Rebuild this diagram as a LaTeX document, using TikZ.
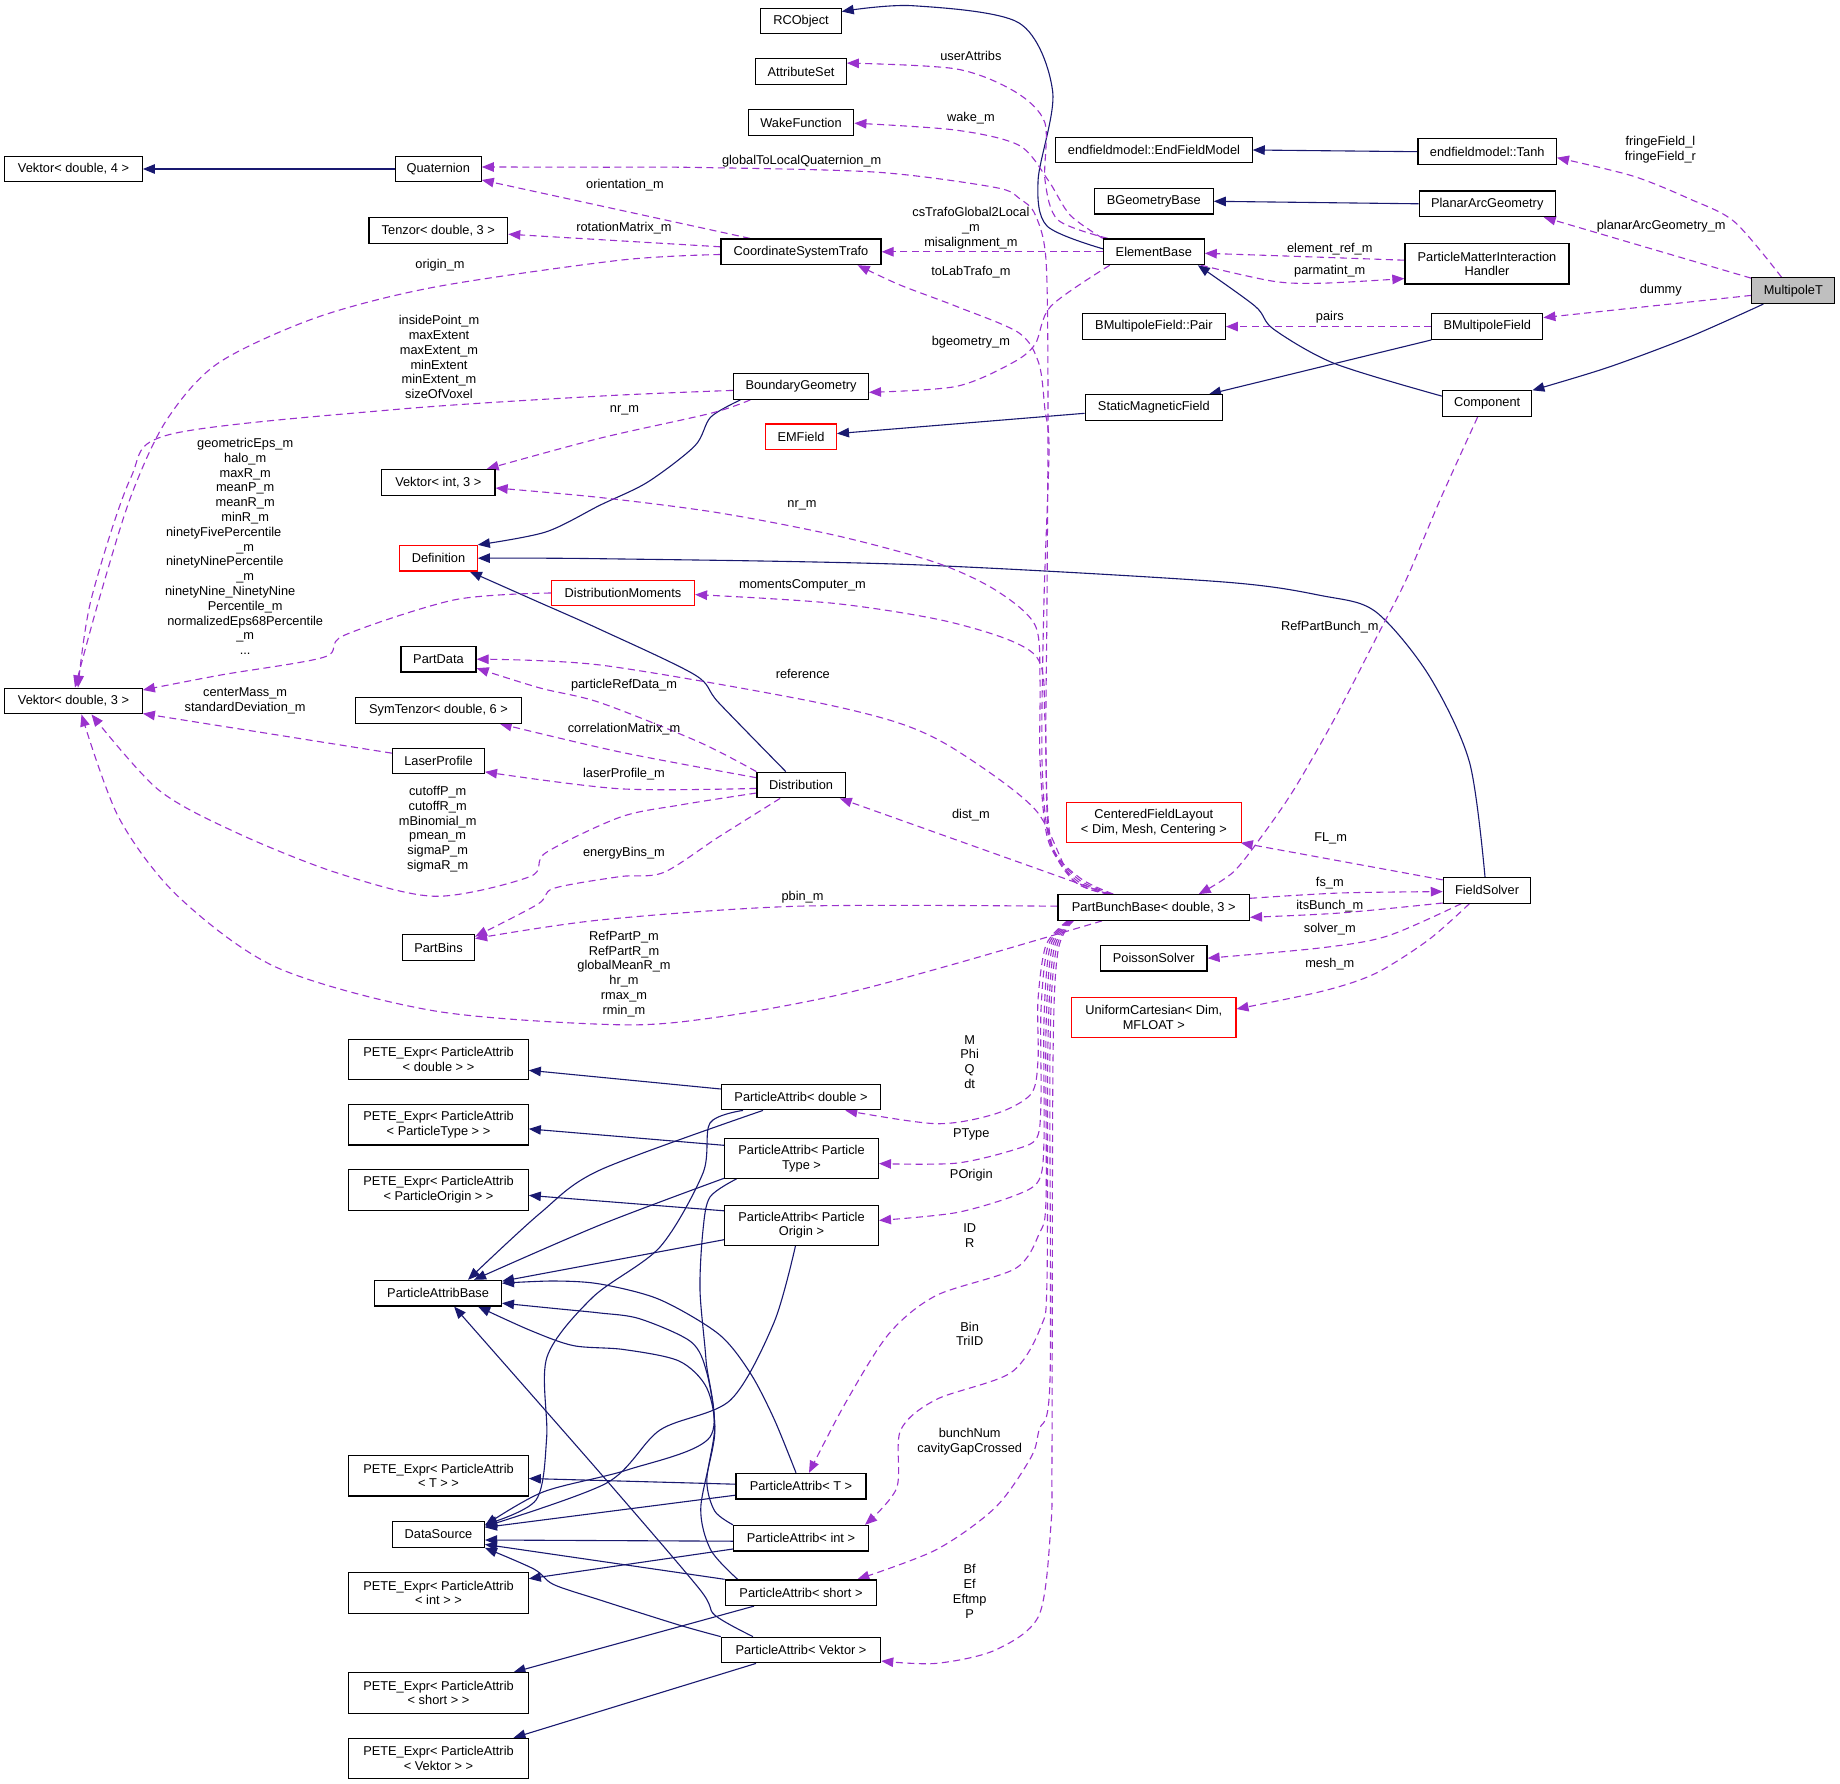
\documentclass[tikz,border=0pt]{standalone}
\usepackage{fontspec}
\setmainfont{Liberation Sans}
\usetikzlibrary{arrows.meta}
\definecolor{navyc}{HTML}{191970}
\definecolor{purp}{HTML}{9A32CD}
\definecolor{grayf}{HTML}{BFBFBF}
\newcommand\fsz{\fontsize{12.8pt}{14.8pt}\selectfont}
\pgfdeclarelayer{bg}
\pgfdeclarelayer{canvas}
\pgfsetlayers{canvas,bg,main}
\tikzset{
  box/.style={draw=black, line width=1.2pt, fill=white, minimum height=25.6pt, inner sep=2pt, align=center, font=\fsz},
  redbox/.style={box, draw=red},
  inh/.style={draw=navyc, line width=1.1pt, -{Triangle[length=12pt,width=9.5pt]}},
  dep/.style={draw=purp, line width=1.1pt, dash pattern=on 7pt off 4.5pt, -{Triangle[length=12pt,width=9.5pt]}},
  lbl/.style={inner sep=0pt, align=center, font=\fsz},
}
\begin{document}
\begin{tikzpicture}[x=1pt,y=-1pt]
\begin{pgfonlayer}{canvas}
\fill[white] (0,0) rectangle (1840,1784);
\end{pgfonlayer}
\useasboundingbox (0,0) rectangle (1840,1784);
% ---------- nodes ----------
\node[box, minimum width=137.6pt] (v4) at (73.5,169) {Vektor< double, 4 >};
\node[box, minimum width=85.8pt] (quat) at (438.3,169) {Quaternion};
\node[box, minimum width=138.8pt] (tenzor) at (438.3,230.6) {Tenzor< double, 3 >};
\node[box, minimum width=113.5pt] (vint) at (438.3,482.4) {Vektor< int, 3 >};
\node[redbox, minimum width=77.5pt] (defn) at (438.5,558.2) {Definition};
\node[redbox, minimum width=143pt] (dmom) at (623,593) {DistributionMoments};
\node[box, minimum width=137.6pt] (v3) at (73.5,701) {Vektor< double, 3 >};
\node[box, minimum width=75.1pt] (partdata) at (438.5,659.2) {PartData};
\node[box, minimum width=165.3pt] (symt) at (438.5,710.3) {SymTenzor< double, 6 >};
\node[box, minimum width=91.8pt] (laser) at (438.5,760.9) {LaserProfile};
\node[box, minimum width=72pt] (partbins) at (438.5,947.6) {PartBins};
\node[box, minimum width=179.5pt, minimum height=40.3pt] (peted) at (438.5,1059.7) {PETE\_Expr< ParticleAttrib\\< double > >};
\node[box, minimum width=179.5pt, minimum height=40.3pt] (petetype) at (438.5,1124.9) {PETE\_Expr< ParticleAttrib\\< ParticleType > >};
\node[box, minimum width=179.5pt, minimum height=40.3pt] (peteorigin) at (438.5,1190) {PETE\_Expr< ParticleAttrib\\< ParticleOrigin > >};
\node[box, minimum width=126.6pt] (pab) at (438.1,1293.2) {ParticleAttribBase};
\node[box, minimum width=179.5pt, minimum height=40.3pt] (peteT) at (438.5,1475.8) {PETE\_Expr< ParticleAttrib\\< T > >};
\node[box, minimum width=91.8pt] (ds) at (438.5,1534.4) {DataSource};
\node[box, minimum width=179.5pt, minimum height=40.3pt] (peteint) at (438.5,1593) {PETE\_Expr< ParticleAttrib\\< int > >};
\node[box, minimum width=179.5pt, minimum height=40.3pt] (peteshort) at (438.5,1693) {PETE\_Expr< ParticleAttrib\\< short > >};
\node[box, minimum width=179.5pt, minimum height=40.3pt] (petevek) at (438.5,1758.6) {PETE\_Expr< ParticleAttrib\\< Vektor > >};
\node[box, minimum width=80.3pt] (rco) at (801,21) {RCObject};
\node[box, minimum width=90.5pt] (attr) at (801,71.6) {AttributeSet};
\node[box, minimum width=105.6pt] (wake) at (801,122.5) {WakeFunction};
\node[box, minimum width=160.1pt] (cst) at (801,251.8) {CoordinateSystemTrafo};
\node[box, minimum width=134.9pt] (bgeo) at (801,386.5) {BoundaryGeometry};
\node[redbox, minimum width=70.8pt] (emf) at (801,436.9) {EMField};
\node[box, minimum width=88.2pt] (dist) at (801.1,785) {Distribution};
\node[box, minimum width=159.3pt] (pad) at (801,1097) {ParticleAttrib< double >};
\node[box, minimum width=153.8pt, minimum height=40pt] (patype) at (801.5,1158.3) {ParticleAttrib< Particle\\Type >};
\node[box, minimum width=153.8pt, minimum height=40pt] (paorigin) at (801.5,1225.2) {ParticleAttrib< Particle\\Origin >};
\node[box, minimum width=130.1pt] (paT) at (801,1486.2) {ParticleAttrib< T >};
\node[box, minimum width=134.9pt] (paint) at (801,1538.2) {ParticleAttrib< int >};
\node[box, minimum width=151.5pt] (pashort) at (801,1592.7) {ParticleAttrib< short >};
\node[box, minimum width=159.3pt] (pavek) at (801,1650) {ParticleAttrib< Vektor >};
\node[box, minimum width=196.3pt] (efm) at (1154,150) {endfieldmodel::EndFieldModel};
\node[box, minimum width=119pt] (bgb) at (1153.7,201.3) {BGeometryBase};
\node[box, minimum width=100.8pt] (eb) at (1153.8,251.8) {ElementBase};
\node[box, minimum width=142.9pt] (pair) at (1153.9,326.6) {BMultipoleField::Pair};
\node[box, minimum width=137.2pt] (smf) at (1153.8,407.6) {StaticMagneticField};
\node[redbox, minimum width=174.6pt, minimum height=39.6pt] (cfl) at (1153.9,822.4) {CenteredFieldLayout\\< Dim, Mesh, Centering >};
\node[box, minimum width=191.5pt] (pbb) at (1153.7,907.5) {PartBunchBase< double, 3 >};
\node[box, minimum width=106.4pt] (poisson) at (1153.8,958.2) {PoissonSolver};
\node[redbox, minimum width=164.2pt, minimum height=40pt] (uc) at (1153.8,1017.2) {UniformCartesian< Dim,\\MFLOAT >};
\node[box, minimum width=138.3pt] (tanh) at (1487.2,151.7) {endfieldmodel::Tanh};
\node[box, minimum width=135.9pt] (pag) at (1487.2,203.8) {PlanarArcGeometry};
\node[box, minimum width=164.1pt, minimum height=40.2pt] (pmih) at (1487,263.9) {ParticleMatterInteraction\\Handler};
\node[box, minimum width=111pt] (bmf) at (1487.3,326.6) {BMultipoleField};
\node[box, minimum width=89.4pt] (comp) at (1487.1,403.7) {Component};
\node[box, minimum width=87.3pt] (fs) at (1487,890.3) {FieldSolver};
\node[box, minimum width=82.9pt, fill=grayf] (mpt) at (1793.3,290.7) {MultipoleT};
% ---------- labels ----------
\node[lbl] (l1) at (1660.4,149.8) {fringeField\_l\\fringeField\_r};
\node[lbl] (l2) at (1661.2,225.8) {planarArcGeometry\_m};
\node[lbl] (l3) at (1660.8,289.7) {dummy};
\node[lbl] (l4) at (1329.8,271) {parmatint\_m};
\node[lbl] (l5) at (1329.8,248.8) {element\_ref\_m};
\node[lbl] (l6) at (1329.8,317.6) {pairs};
\node[lbl] (l7) at (970.9,227.9) {csTrafoGlobal2Local\\\_m\\misalignment\_m};
\node[lbl] (l8) at (970.9,342.5) {bgeometry\_m};
\node[lbl] (l9) at (970.9,118.6) {wake\_m};
\node[lbl] (l10) at (970.9,56.3) {userAttribs};
\node[lbl] (l11) at (801.7,160.7) {globalToLocalQuaternion\_m};
\node[lbl] (l12) at (970.9,272.5) {toLabTrafo\_m};
\node[lbl] (l13) at (802,505.2) {nr\_m};
\node[lbl] (l14) at (802.5,585.5) {momentsComputer\_m};
\node[lbl] (l15) at (802.8,673.7) {reference};
\node[lbl] (l16) at (970.9,814.9) {dist\_m};
\node[lbl] (l17) at (1329.8,626.7) {RefPartBunch\_m};
\node[lbl] (l18) at (1330.6,838.6) {FL\_m};
\node[lbl] (l19) at (1329.8,882.9) {fs\_m};
\node[lbl] (l20) at (1329.8,905.8) {itsBunch\_m};
\node[lbl] (l21) at (1329.8,928.8) {solver\_m};
\node[lbl] (l22) at (1329.8,964.3) {mesh\_m};
\node[lbl] (l23) at (802.5,897.5) {pbin\_m};
\node[lbl] (l24) at (624,973.9) {RefPartP\_m\\RefPartR\_m\\globalMeanR\_m\\hr\_m\\rmax\_m\\rmin\_m};
\node[lbl] (l25) at (624,684.8) {particleRefData\_m};
\node[lbl] (l26) at (624,729.5) {correlationMatrix\_m};
\node[lbl] (l27) at (624,774.5) {laserProfile\_m};
\node[lbl] (l28) at (437.7,829.1) {cutoffP\_m\\cutoffR\_m\\mBinomial\_m\\pmean\_m\\sigmaP\_m\\sigmaR\_m};
\node[lbl] (l29) at (624,853.6) {energyBins\_m};
\node[lbl] (l30) at (625,184.8) {orientation\_m};
\node[lbl] (l31) at (624,228.5) {rotationMatrix\_m};
\node[lbl] (l32) at (440,264.8) {origin\_m};
\node[lbl] (l33) at (439,357.1) {insidePoint\_m\\maxExtent\\maxExtent\_m\\minExtent\\minExtent\_m\\sizeOfVoxel};
\node[lbl] (l34) at (624.5,410.6) {nr\_m};
\node[lbl] (l35) at (245.2,546.4) {geometricEps\_m\\halo\_m\\maxR\_m\\meanP\_m\\meanR\_m\\minR\_m\\ninetyFivePercentile\rule{43pt}{0pt}\\\_m\\ninetyNinePercentile\rule{41pt}{0pt}\\\_m\\ninetyNine\_NinetyNine\rule{30pt}{0pt}\\Percentile\_m\\normalizedEps68Percentile\\\_m\\...};
\node[lbl] (l36) at (245.2,701.2) {centerMass\_m\\standardDeviation\_m};
\node[lbl] (l37) at (969.7,1062) {M\\Phi\\Q\\dt};
\node[lbl] (l38) at (971.3,1134.4) {PType};
\node[lbl] (l39) at (971.3,1174.7) {POrigin};
\node[lbl] (l40) at (969.7,1235.5) {ID\\R};
\node[lbl] (l41) at (969.7,1333.9) {Bin\\TriID};
\node[lbl] (l42) at (969.7,1441.9) {bunchNum\\cavityGapCrossed};
\node[lbl] (l43) at (969.7,1591.4) {Bf\\Ef\\Eftmp\\P};
% ---------- edges ----------
\begin{pgfonlayer}{bg}
% inheritance
\draw[inh] (quat.west) -- (v4.east);
\draw[inh] plot[smooth] coordinates {([yshift=3pt]eb.west) (1046.8,225.8) (1038.1,179.9) (1052.7,91.8) (1019.1,23) (912.4,5.7) ([yshift=9.5pt]rco.east)};
\draw[inh] (tanh.west) -- (efm.east);
\draw[inh] (pag.west) -- (bgb.east);
\draw[inh] plot[smooth] coordinates {([yshift=7.6pt]comp.west) (1334.7,363.6) (1273.5,329.1) (1255.1,306.2) ([xshift=-7pt]eb.south east)};
\draw[inh] (bmf.south west) -- ([xshift=-14pt]smf.north east);
\draw[inh] plot[smooth] coordinates {([xshift=-30pt]mpt.south) (1689.8,336.8) (1608,367.4) (comp.north east)};
\draw[inh] ([yshift=-5.7pt]smf.west) -- ([yshift=3.3pt]emf.east);
\draw[inh] plot[smooth] coordinates {([xshift=-60.6pt]bgeo.south) (710.7,417.1) (694.9,445.8) (647.5,482.2) (600,505.2) (545.7,532) (defn.north east)};
\draw[inh] plot[smooth] coordinates {([xshift=-2pt]fs.north) (1469.4,761.9) (1428.6,674.9) (1375.5,611.6) (1322.4,595.8) (1220,581.7) (908.4,564.5) (600,558.7) (defn.east)};
\draw[inh] plot[smooth] coordinates {([xshift=-15.3pt]dist.north) (718.6,702.6) (694.9,674.9) (600,629.4) (533.8,600) ([xshift=-8pt]defn.south east)};
% particle attrib inheritance
\draw[inh] ([yshift=8pt]pad.west) -- ([yshift=-10.6pt]peted.east);
\draw[inh] plot[smooth] coordinates {([xshift=-38pt]pad.south) (600,1170) (540,1213.3) ([xshift=-34pt]pab.north east)};
\draw[inh] plot[smooth] coordinates {([xshift=-58pt]pad.south) (710,1123) (703,1173) (660,1247) (593,1297) (547,1357) (546.7,1437) (536,1500) ([yshift=10pt]ds.east)};
\draw[inh] ([yshift=13pt]patype.west) -- ([yshift=-4pt]petetype.east);
\draw[inh] plot[smooth] coordinates {([yshift=-20pt]patype.west) (600,1225) ([xshift=-28pt]pab.north east)};
\draw[inh] plot[smooth] coordinates {([xshift=-65pt]patype.south) (710,1197) (703,1230) (700,1290) (706,1360) (710,1437) (627,1470) (543,1492) ([yshift=9pt]ds.east)};
\draw[inh] ([yshift=14.4pt]paorigin.west) -- ([yshift=-5.4pt]peteorigin.east);
\draw[inh] ([yshift=-14.5pt]paorigin.west) -- ([yshift=12pt]pab.east);
\draw[inh] plot[smooth] coordinates {([xshift=-6pt]paorigin.south) (774,1322.5) (730.5,1400) (660,1430) (606.7,1483) ([yshift=8pt]ds.east)};
\draw[inh] ([yshift=2pt]paT.west) -- ([yshift=-2.7pt]peteT.east);
\draw[inh] ([yshift=-9pt]paT.west) -- ([yshift=7pt]ds.east);
\draw[inh] plot[smooth] coordinates {([xshift=-5pt]paT.north) (774,1418.8) (750,1372.6) (718.6,1334) (659.3,1299.4) (600,1284) (553.6,1281) ([yshift=10pt]pab.east)};
\draw[inh] ([yshift=-10.8pt]paint.west) -- ([yshift=14.3pt]peteint.east);
\draw[inh] ([yshift=-3pt]paint.west) -- ([yshift=-5.6pt]ds.east);
\draw[inh] plot[smooth] coordinates {(paint.north west) (714.7,1511) (706.8,1480.5) (714.7,1426.5) (706.8,1372.6) (691,1341.8) (639.5,1318.7) (600,1313) (560,1309) ([yshift=-10pt]pab.east)};
\draw[inh] ([xshift=-47pt]pashort.south) -- ([xshift=75pt]peteshort.north);
\draw[inh] (pashort.north west) -- ([yshift=-10pt]ds.east);
\draw[inh] plot[smooth] coordinates {([xshift=13pt]pashort.north west) (710.7,1549.8) (700.8,1507.4) (714.7,1434) (706.8,1388) (679,1361) (623.7,1349.5) (573.3,1345.6) (529.9,1330.2) ([xshift=40pt]pab.south)};
\draw[inh] ([xshift=-45pt]pavek.south) -- ([xshift=75pt]petevek.north);
\draw[inh] plot[smooth] coordinates {(pavek.north west) (679,1625) (600,1600) (553.6,1584.5) (533.8,1569) ([yshift=-13.5pt]ds.east)};
\draw[inh] plot[smooth] coordinates {([xshift=-48pt]pavek.north) (714.7,1615) (698.9,1588.3) (600,1472.8) ([xshift=16pt]pab.south)};
% dependencies
\draw[dep] plot[smooth] coordinates {([xshift=-11.7pt]mpt.north) (1734.7,222) (1689.8,199) (1632.7,176) ([yshift=-6pt]tanh.east)};
\draw[dep] ([yshift=12.5pt]mpt.west) -- ([xshift=-12pt]pag.south east);
\draw[dep] ([yshift=-4.7pt]mpt.west) -- ([yshift=9pt]bmf.east);
\draw[dep] plot[smooth] coordinates {([xshift=-4pt]eb.south east) (1273.5,281.3) (1322.4,283.2) ([yshift=-14.7pt]pmih.west)};
\draw[dep] plot[smooth] coordinates {([yshift=3.7pt]pmih.west) (1300,256.5) ([yshift=-1.5pt]eb.east)};
\draw[dep] (bmf.west) -- (pair.east);
\draw[dep] (eb.west) -- (cst.east);
\draw[dep] plot[smooth] coordinates {([xshift=-44pt]eb.south) (1050.8,306.2) (1035,344.4) (1011,363.6) (955.9,386.5) ([yshift=-5.8pt]bgeo.east)};
\draw[dep] plot[smooth] coordinates {(eb.north west) (1070,215) (1048,180) (1019.1,145.4) (955.9,130.1) ([yshift=-0.7pt]wake.east)};
\draw[dep] plot[smooth] coordinates {([xshift=5pt]eb.north west) (1058,220) (1045,180) (1044.8,122.5) (1015.2,91.8) (955.9,68.9) ([yshift=8.5pt]attr.east)};
% PartBunchBase upward bundle
\draw[dep] plot[smooth] coordinates {([xshift=56pt]pbb.north west) (1080,878) (1052,845) (1046,760) (1047,600) (1048,400) (1046,260) (1035,214.3) (1020,199) (995.4,187.5) (876.8,172.2) (700,167.5) (600,167.2) ([yshift=2pt]quat.east)};
\draw[dep] plot[smooth] coordinates {([xshift=55pt]pbb.north west) (1078,879) (1050,842) (1042,760) (1044,600) (1049,450) (1045,410) (1038.9,363.6) (1019.1,333) (955.9,306.2) (900,285) ([xshift=-24pt]cst.south east)};
\draw[dep] plot[smooth] coordinates {([xshift=54pt]pbb.north west) (1076,880) (1048,840) (1040,760) (1040,680) (1035,625) (995.4,590) (936,562.6) (837.2,535.8) (718.6,512.8) (600,497.5) ([yshift=-5.6pt]vint.east)};
\draw[dep] plot[smooth] coordinates {([xshift=53pt]pbb.north west) (1074,881) (1049,835) (1045,720) (1035,655.1) (955.9,623.5) (837.2,603.7) ([yshift=-1.6pt]dmom.east)};
\draw[dep] plot[smooth] coordinates {([xshift=52pt]pbb.north west) (1072,879) (1035,809.3) (955.9,750) (896.6,722.3) (797.7,698.6) (600,665) (partdata.east)};
\draw[dep] ([xshift=51pt]pbb.north west) -- ([xshift=-6pt]dist.south east);
\draw[dep] plot[smooth] coordinates {([xshift=-9.5pt]comp.south) (1440,500) (1406,580) (1379.6,631.4) (1334.7,718.4) (1293.9,789.6) (1261.2,837) (1232.7,872.6) ([xshift=45pt]pbb.north)};
\draw[dep] ([yshift=-3pt]fs.north west) -- ([xshift=-1pt]cfl.south east);
\draw[dep] plot[smooth] coordinates {([yshift=9.2pt]pbb.east) (1340,893) ([yshift=-1.3pt]fs.west)};
\draw[dep] plot[smooth] coordinates {([yshift=-12.7pt]fs.west) (1340,913) ([yshift=-9.8pt]pbb.east)};
\draw[dep] plot[smooth] coordinates {([xshift=-25.8pt]fs.south) (1387.8,935.9) (1322.4,947.7) (poisson.east)};
\draw[dep] plot[smooth] coordinates {([xshift=-17.6pt]fs.south) (1428.6,939.8) (1375.5,973.4) (1322.4,991.2) ([yshift=8.2pt]uc.east)};
\draw[dep] plot[smooth] coordinates {([yshift=1.3pt]pbb.west) (797.7,906.2) (600,920) ([yshift=9pt]partbins.east)};
\draw[dep] plot[smooth] coordinates {([xshift=-51.7pt]pbb.south) (955.9,963.6) (837.2,995.2) (718.6,1017) (620,1024.8) (435,1011) (276.8,967.5) (178,896.3) (118.6,817.2) ([xshift=8pt]v3.south)};
% Distribution, CST, BoundaryGeometry members
\draw[dep] plot[smooth] coordinates {(dist.north west) (698.9,742) (600,702.6) (540,688) ([yshift=-9pt]partdata.east)};
\draw[dep] plot[smooth] coordinates {([yshift=7.3pt]dist.west) (620,752) ([xshift=-22pt]symt.south east)};
\draw[dep] plot[smooth] coordinates {([yshift=-3.4pt]dist.west) (620,788.8) ([yshift=-11pt]laser.east)};
\draw[dep] plot[smooth] coordinates {([yshift=-8pt]dist.west) (680,805) (620,817.2) (545.7,852.8) (529.9,876.6) (435,896.3) (336.1,872.6) (237.2,833) (158.2,789.6) ([xshift=18pt]v3.south)};
\draw[dep] plot[smooth] coordinates {([xshift=-21pt]dist.south) (718.6,837) (663.3,872.6) (620,876.6) (553.6,888.4) (537.8,904.2) ([yshift=11pt]partbins.east)};
\draw[dep] ([xshift=-51pt]cst.north) -- ([yshift=-11pt]quat.east);
\draw[dep] ([yshift=5pt]cst.west) -- ([yshift=-3.6pt]tenzor.east);
\draw[dep] plot[smooth] coordinates {([yshift=-2.7pt]cst.west) (620,260.2) (435,287) (316.3,317.6) (217.5,363.6) (166,421) (130.5,497.5) (98.9,600) ([xshift=1.5pt]v3.north)};
\draw[dep] plot[smooth] coordinates {([yshift=-3.9pt]bgeo.west) (600,396.1) (395.4,409.5) (170,434.4) (130.5,478.4) (91,600) ([xshift=4.5pt]v3.north)};
\draw[dep] plot[smooth] coordinates {([xshift=-50.7pt]bgeo.south) (710.7,413.3) (600,438.2) ([xshift=-9pt]vint.north east)};
\draw[dep] plot[smooth] coordinates {(dmom.west) (454.7,599.8) (344,635.4) (324.2,657.1) (221.4,674.9) ([yshift=11pt]v3.east)};
\draw[dep] ([yshift=7.7pt]laser.west) -- ([yshift=-12.6pt]v3.east);
% PartBunchBase downward bundle
\draw[dep] plot[smooth] coordinates {([xshift=10pt]pbb.south west) (1046,945) (1038,1000) (1038,1060) (1031,1094) (995.4,1113.8) (936.1,1123.7) ([xshift=-36pt]pad.south east)};
\draw[dep] plot[smooth] coordinates {([xshift=11pt]pbb.south west) (1048,946) (1041,1010) (1041,1100) (1037,1137.5) (1015.2,1149.4) (955.9,1163.2) ([yshift=-5.3pt]patype.east)};
\draw[dep] plot[smooth] coordinates {([xshift=12pt]pbb.south west) (1050,947) (1044,1020) (1044,1140) (1039,1180) (1015.2,1195.4) (955.9,1212.7) ([yshift=4.8pt]paorigin.east)};
\draw[dep] plot[smooth] coordinates {([xshift=13pt]pbb.south west) (1052,948) (1046,1030) (1046,1200) (1039,1234) (1015.2,1268.6) (936,1295.6) (888.7,1334) (845.2,1403.4) ([xshift=8pt]paT.north)};
\draw[dep] plot[smooth] coordinates {([xshift=14pt]pbb.south west) (1054,949) (1048,1040) (1047,1280) (1041,1326.4) (1011,1372.6) (936,1399.6) (900.5,1430.4) (896.6,1488.2) ([xshift=-4pt]paint.north east)};
\draw[dep] plot[smooth] coordinates {([xshift=15pt]pbb.south west) (1056,950) (1050,1050) (1050,1380) (1039,1430) (1031,1457.3) (995.4,1507.4) (936,1549.8) ([xshift=-20pt]pashort.north east)};
\draw[dep] plot[smooth] coordinates {([xshift=16pt]pbb.south west) (1058,951) (1053,1060) (1052,1450) (1050.8,1526.7) (1039,1615.3) (995.4,1650) (936,1663.4) ([yshift=-11pt]pavek.east)};
\end{pgfonlayer}
\end{tikzpicture}
\end{document}
